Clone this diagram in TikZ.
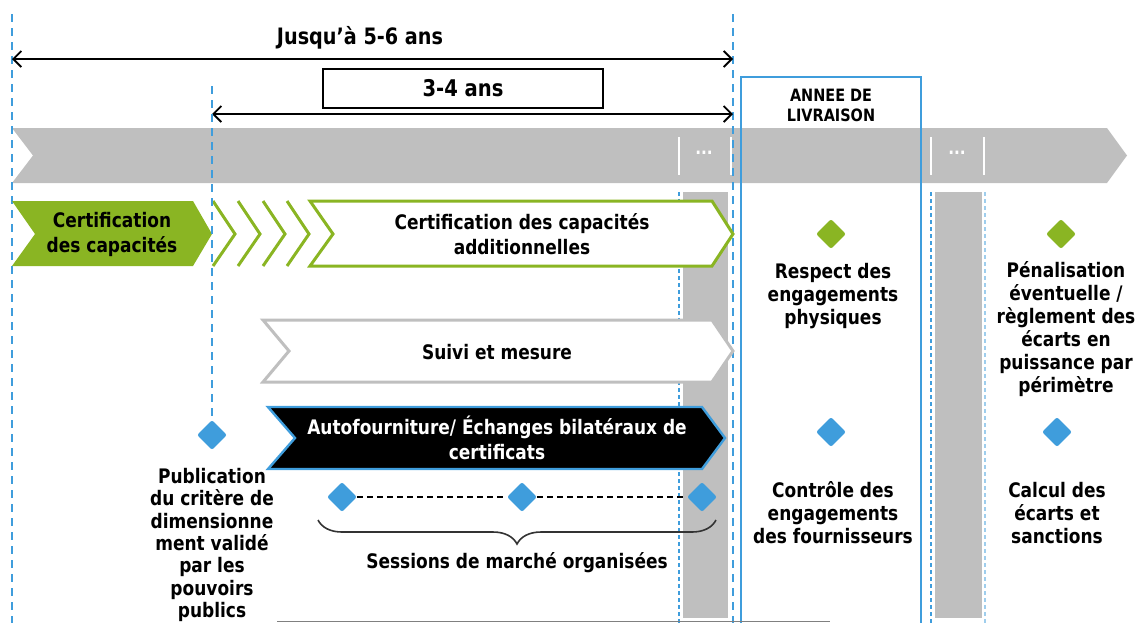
\documentclass[tikz,border=0pt]{standalone}
\usepackage{fontspec}
\setmainfont{DejaVu Sans}[FakeStretch=0.85]
\usetikzlibrary{positioning,arrows.meta}
\usetikzlibrary{shapes.geometric}
\usetikzlibrary{decorations.pathreplacing}

\definecolor{leaf}{HTML}{8AB523}
\definecolor{sky}{HTML}{3F9DDC}
\definecolor{band}{HTML}{BFBFBF}

\begin{document}
\begin{tikzpicture}[x=0.5pt, y=-0.5pt,
    every node/.style={font=\bfseries\fontsize{10}{12.5}\selectfont, align=center, inner sep=0pt},
    guide/.style={sky, line width=1.4pt, dash pattern=on 4pt off 3pt},
    thinguide/.style={sky, line width=0.6pt, dash pattern=on 2pt off 1.5pt},
    span/.style={line width=0.9pt, {Straight Barb[length=4pt,width=8pt]}-{Straight Barb[length=4pt,width=8pt]}},
    milestone/.style={diamond, fill=#1, minimum size=15pt, rounded corners=1pt},
    caption/.style={font=\bfseries\fontsize{10}{11.5}\selectfont}]
  \useasboundingbox (0,0) rectangle (1135,623);

  % Draw the time band and the grey gaps
  \fill[band] (12,128) -- (1107,128) -- (1127,155.5) -- (1107,183) -- (12,183) -- (33,155.5) -- cycle;
  \fill[band] (683,192) rectangle (728,618);
  \fill[band] (935,192) rectangle (982,618);
  \foreach \x in {679,731,931,984}
    \draw[white, line width=0.8pt] (\x,137) -- (\x,175);
  \node[white, font=\bfseries\small] (gap1) at (704,153) {...};
  \node[white, font=\bfseries\small] (gap2) at (957,153) {...};

  % Draw the guide lines
  \draw[guide] (12,14) -- (12,623);
  \draw[guide] (733,14) -- (733,623);
  \draw[thinguide] (679,192) -- (679,623);
  \draw[thinguide] (931,192) -- (931,623);
  \draw[thinguide, sky!50] (985,192) -- (985,623);

  % Draw the delivery year frame
  \draw[sky, line width=1.2pt] (741,623) -- (741,77) -- (921,77) -- (921,623);
  \node[font=\bfseries\fontsize{8.5}{10}\selectfont] (annee) at (831,105) {ANNEE DE\\LIVRAISON};

  % Draw the durations
  \coordinate (s0) at (12,59);
  \coordinate (e0) at (733,59);
  \coordinate (s1) at (212,114);
  \coordinate (e1) at (733,114);
  \draw[span] (s0) -- (e0);
  \draw[span] (s1) -- (e1);
  \node[font=\bfseries\fontsize{11.3}{13}\selectfont] (long) at (360,38) {Jusqu’à 5-6 ans};
  \node[draw, fill=white, line width=0.9pt, minimum width=140pt, minimum height=19.5pt,
        font=\bfseries\fontsize{11.5}{13}\selectfont] (short) at (463,88.5) {3-4 ans};

  % Draw the certification chevrons
  \fill[leaf] (12,201) -- (193,201) -- (212,234) -- (193,266) -- (12,266) -- (35,234) -- cycle;
  \node (cert) at (112,234) {Certification\\des capacités};
  \foreach \x in {213,238,263,287}
    \draw[leaf, line width=1.5pt] (\x,201) -- (\x+22,234) -- (\x,266);
  \draw[leaf, line width=1.5pt, fill=white] (310,201) -- (712,201) -- (733,234) -- (712,266) -- (310,266) -- (333,234) -- cycle;
  \node (certadd) at (522,234) {Certification des capacités\\additionnelles};

  % Draw the follow-up chevron
  \draw[band, line width=1.5pt, fill=white] (263,320) -- (712,320) -- (733,351) -- (712,382) -- (263,382) -- (289,351) -- cycle;
  \node (suivi) at (497,352) {Suivi et mesure};

  % Draw the trading chevron
  \draw[sky, line width=1.2pt, fill=black] (268,407) -- (702,407) -- (725,438) -- (702,469) -- (268,469) -- (295,438) -- cycle;
  \node[white] (echange) at (497,438) {Autofourniture/ Échanges bilatéraux de\\certificats};

  % Draw the publication milestone
  \coordinate (pubtop) at (212,86);
  \node[milestone=sky] (pub) at (212,435) {};
  \draw[guide] (pubtop) -- (pub);
  \node[caption, font=\bfseries\fontsize{10}{11.2}\selectfont] (pubtxt) at (212,545) {Publication\\du critère de\\dimensionne\\ment validé\\par les\\pouvoirs\\publics};

  % Draw the market sessions
  \node[milestone=sky] (m1) at (342,497) {};
  \node[milestone=sky] (m2) at (522,497) {};
  \node[milestone=sky] (m3) at (702,497) {};
  \draw[densely dashed, line width=0.6pt] (m1) -- (m2) -- (m3);
  \coordinate (b0) at (318,520);
  \coordinate (b1) at (716,520);
  \draw[decorate, decoration={brace, mirror, amplitude=12pt}, line width=0.8pt, black!80] (b0) -- (b1);
  \node (sessions) at (517,563) {Sessions de marché organisées};

  % Draw the delivery and settlement milestones
  \node[milestone=leaf] (resp) at (831,234) {};
  \node[caption] (resptxt) at (833,296) {Respect des\\engagements\\physiques};
  \node[milestone=leaf] (pen) at (1061,234) {};
  \node[caption] (pentxt) at (1066,329.5) {Pénalisation\\éventuelle /\\règlement des\\écarts en\\puissance par\\périmètre};
  \node[milestone=sky] (ctrl) at (831,432) {};
  \node[caption] (ctrltxt) at (833,513) {Contrôle des\\engagements\\des fournisseurs};
  \node[milestone=sky] (calc) at (1057,432) {};
  \node[caption] (calctxt) at (1057,513) {Calcul des\\écarts et\\sanctions};

  \draw[black!50, line width=0.5pt] (277,621) -- (830,621);
\end{tikzpicture}
\end{document}
